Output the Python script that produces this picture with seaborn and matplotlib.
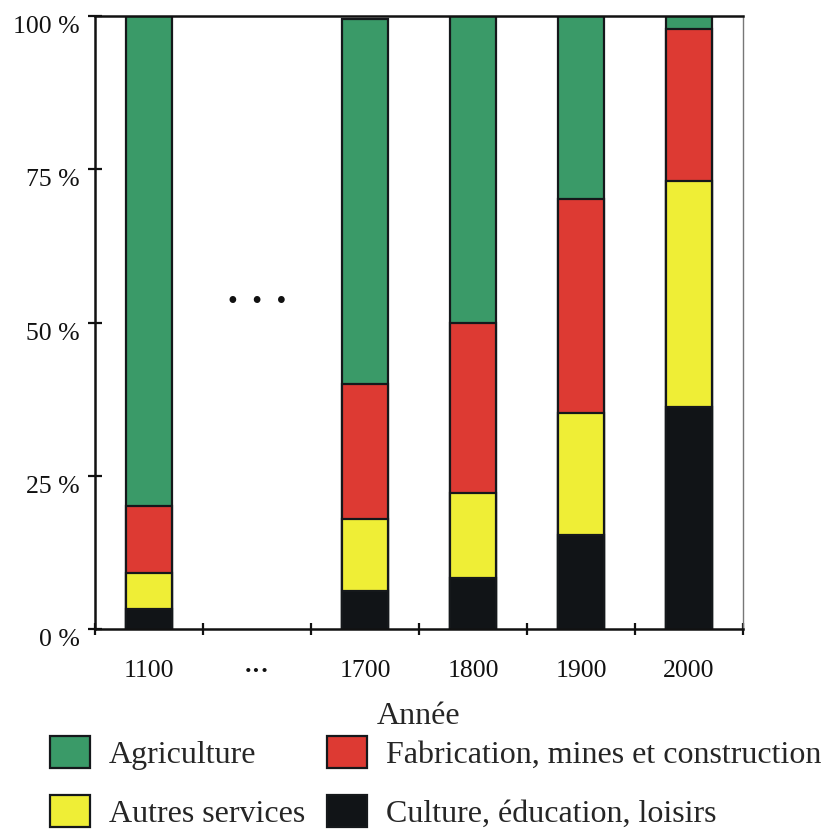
import matplotlib
matplotlib.use("Agg")
import matplotlib.pyplot as plt
import matplotlib.transforms as mtrans
from matplotlib.patches import Patch
from matplotlib.ticker import FixedLocator
import numpy as np
import pandas as pd
import seaborn as sns

# données (parts en %)
years = ["1100", "1700", "1800", "1900", "2000"]
order = ["1100", "...", "1700", "1800", "1900", "2000"]
culture = [3.2, 6.2, 8.3, 15.3, 36.2]
autres = [6.0, 11.7, 13.9, 19.9, 36.9]
fabrication = [10.9, 22.1, 27.8, 34.9, 24.8]
agriculture = [79.9, 59.5, 50.0, 29.9, 2.1]

labels = ["Culture, éducation, loisirs", "Autres services",
          "Fabrication, mines et construction", "Agriculture"]
colors = ["#111417", "#EFEE36", "#DD3A33", "#3A9A68"]

df = pd.DataFrame({"annee": years, "c": culture, "a": autres,
                   "f": fabrication, "g": agriculture})
cum = df[["c", "a", "f", "g"]].cumsum(axis=1)
cum["annee"] = df["annee"]

sns.set_style("white")
plt.rcParams["font.family"] = ["Liberation Serif", "DejaVu Serif"]

fig = plt.figure(figsize=(8.23, 8.36), dpi=100)
ax = fig.add_axes([95 / 823, 1 - 629 / 836, (743 - 95) / 823, (629 - 16) / 836])

# barres empilées : on dessine les cumuls du haut vers le bas
for col, colr in zip(["g", "f", "a", "c"], colors[::-1]):
    sns.barplot(data=cum, x="annee", y=col, order=order, color=colr,
                width=0.435, edgecolor="#15181b", linewidth=1.6,
                saturation=1, errorbar=None, ax=ax)

ax.set_xlim(-0.5, 5.5)
ax.set_ylim(0, 100)
ax.set_ylabel("")
ax.set_xlabel("Année", fontsize=23)
ax.xaxis.set_label_coords(0.5, -0.143)
ax.xaxis.label.set_va("center")

ax.set_yticks([0, 25, 50, 75, 100])
ax.set_yticklabels(["0 %", "25 %", "50 %", "75 %", "100 %"], fontsize=18.5)
down = mtrans.ScaledTranslation(0, -3 / 72, fig.dpi_scale_trans)
for t in ax.get_yticklabels():
    t.set_va("top")
    t.set_transform(t.get_transform() + down)
ax.tick_params(axis="y", direction="inout", length=9.5, width=1.6,
               left=True, pad=6, colors="#111")

ax.set_xticks(range(6))
ax.set_xticklabels(["1100", "···", "1700", "1800", "1900", "2000"], fontsize=18.5)
ax.get_xticklabels()[1].set_fontweight("bold")
ax.tick_params(axis="x", which="major", length=0, pad=22, colors="#111")
ax.xaxis.set_minor_locator(FixedLocator(np.arange(-0.5, 6, 1)))
ax.tick_params(axis="x", which="minor", direction="inout", length=9,
               width=1.6, bottom=True, color="#111")

ax.text(1, 53.0, "· · ·", fontsize=30, fontweight="bold",
        ha="center", va="center", color="#111")

for s in ["left", "bottom", "top"]:
    ax.spines[s].set_color("#111")
    ax.spines[s].set_linewidth(1.8)
ax.spines["right"].set_color("#777")
ax.spines["right"].set_linewidth(1.0)

handles = [Patch(facecolor=c, edgecolor="#15181b", linewidth=1.6) for c in colors]
# ordre: colonne 1 = Agriculture, Autres services ; colonne 2 = Fabrication, Culture
leg_h = [handles[3], handles[1], handles[2], handles[0]]
leg_l = [labels[3], labels[1], labels[2], labels[0]]
fig.legend(leg_h, leg_l, ncol=2, loc="upper left",
           bbox_to_anchor=(50 / 823, 1 - 736 / 836), frameon=False,
           fontsize=23, handlelength=1.25, handleheight=1.15,
           handletextpad=0.6, columnspacing=0.68, labelspacing=0.8,
           borderpad=0, borderaxespad=0)

fig.savefig("out.png", dpi=100)
